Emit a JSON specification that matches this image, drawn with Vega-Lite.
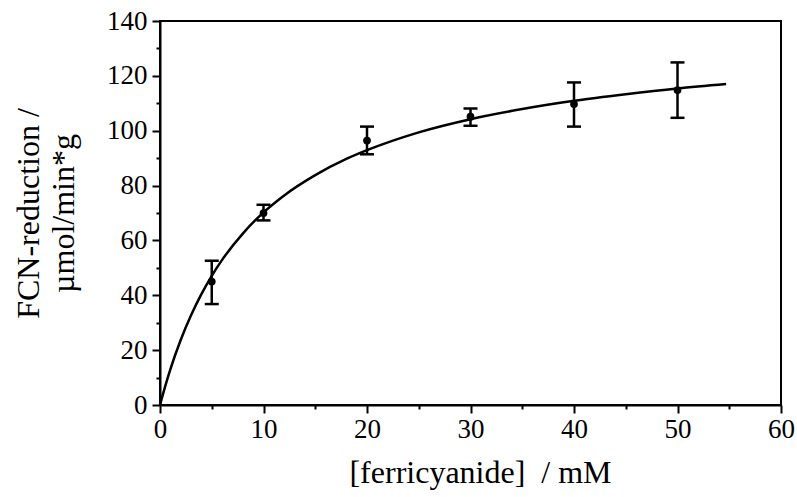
{
  "$schema": "https://vega.github.io/schema/vega-lite/v6.json",
  "width": 621,
  "height": 384,
  "autosize": {"type": "none"},
  "padding": {"left": 160, "top": 21, "right": 16, "bottom": 92},
  "background": "white",
  "config": {
    "font": "Liberation Serif",
    "view": {"stroke": "black", "strokeWidth": 2},
    "axis": {
      "grid": false,
      "domainColor": "black",
      "domainWidth": 2,
      "tickColor": "black",
      "tickOpacity": 1,
      "tickWidth": 2,
      "labelColor": "black",
      "titleColor": "black",
      "labelFont": "Liberation Serif",
      "titleFont": "Liberation Serif",
      "labelFontSize": 27,
      "labelFlush": false,
      "titleFontSize": 32,
      "titleFontWeight": "normal"
    }
  },
  "datasets": {
    "points": [
      {"s": 5, "v": 45.0, "lo": 36.8, "hi": 52.6},
      {"s": 10, "v": 70.0, "lo": 67.3, "hi": 73.0},
      {"s": 20, "v": 96.4, "lo": 91.4, "hi": 101.5},
      {"s": 30, "v": 105.1, "lo": 101.8, "hi": 108.1},
      {"s": 40, "v": 109.7, "lo": 101.5, "hi": 117.6},
      {"s": 50, "v": 114.8, "lo": 104.7, "hi": 124.9}
    ],
    "curve": [
      {"s": 0, "v": 0},
      {"s": 0.5, "v": 6.8},
      {"s": 1, "v": 13.0},
      {"s": 2, "v": 23.7},
      {"s": 3, "v": 32.7},
      {"s": 4, "v": 40.4},
      {"s": 5, "v": 47.1},
      {"s": 6, "v": 52.9},
      {"s": 8, "v": 62.5},
      {"s": 10, "v": 70.2},
      {"s": 12, "v": 76.4},
      {"s": 15, "v": 83.8},
      {"s": 18, "v": 89.7},
      {"s": 20, "v": 92.9},
      {"s": 25, "v": 99.4},
      {"s": 30, "v": 104.2},
      {"s": 35, "v": 107.9},
      {"s": 40, "v": 110.9},
      {"s": 45, "v": 113.3},
      {"s": 50, "v": 115.4},
      {"s": 54.7, "v": 117.0}
    ]
  },
  "encoding": {
    "x": {
      "type": "quantitative",
      "scale": {"domain": [0, 60], "nice": false, "zero": false},
      "axis": {
        "title": "[ferricyanide]\u00a0\u00a0/ mM",
        "values": [0, 5, 10, 15, 20, 25, 30, 35, 40, 45, 50, 55, 60],
        "labelExpr": "datum.value % 10 === 0 ? datum.label : ''",
        "tickSize": {"condition": {"test": "datum.value % 10 === 0", "value": 8}, "value": 4},
        "labelPadding": 3,
        "titleX": 320,
        "titleY": 77,
        "titleAlign": "center",
        "titleBaseline": "alphabetic"
      }
    },
    "y": {
      "type": "quantitative",
      "scale": {"domain": [0, 140], "nice": false},
      "axis": {
        "title": ["FCN-reduction /", "µmol/min*g"],
        "values": [0, 10, 20, 30, 40, 50, 60, 70, 80, 90, 100, 110, 120, 130, 140],
        "labelExpr": "datum.value % 20 === 0 ? datum.label : ''",
        "tickSize": {"condition": {"test": "datum.value % 20 === 0", "value": 8}, "value": 4},
        "labelPadding": 5,
        "titlePadding": 26,
        "titleLineHeight": 35
      }
    }
  },
  "layer": [
    {
      "data": {"name": "curve"},
      "mark": {"type": "line", "color": "black", "strokeWidth": 2.5, "interpolate": "monotone"},
      "encoding": {"x": {"field": "s"}, "y": {"field": "v"}}
    },
    {
      "data": {"name": "points"},
      "mark": {"type": "rule", "color": "black", "strokeWidth": 2.5, "opacity": 1},
      "encoding": {"x": {"field": "s"}, "y": {"field": "lo"}, "y2": {"field": "hi"}}
    },
    {
      "data": {"name": "points"},
      "mark": {"type": "tick", "color": "black", "opacity": 1, "thickness": 2.5, "size": 14, "orient": "horizontal"},
      "encoding": {"x": {"field": "s"}, "y": {"field": "lo"}}
    },
    {
      "data": {"name": "points"},
      "mark": {"type": "tick", "color": "black", "opacity": 1, "thickness": 2.5, "size": 14, "orient": "horizontal"},
      "encoding": {"x": {"field": "s"}, "y": {"field": "hi"}}
    },
    {
      "data": {"name": "points"},
      "mark": {"type": "circle", "color": "black", "opacity": 1, "size": 60},
      "encoding": {"x": {"field": "s"}, "y": {"field": "v"}}
    }
  ]
}
